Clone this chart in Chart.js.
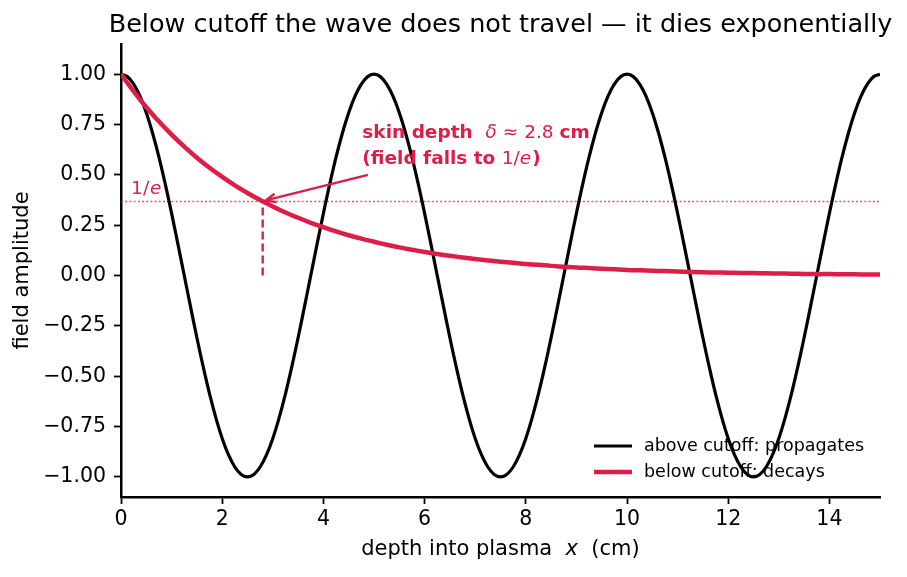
<!DOCTYPE html>
<html>
<head>
<meta charset="utf-8">
<script src="https://cdn.jsdelivr.net/npm/chart.js@4.4.1/dist/chart.umd.min.js"></script>
<style>
  html, body { margin: 0; padding: 0; background: #fff; }
  #wrap { width: 907px; height: 577px; }
</style>
</head>
<body>
<div id="wrap"><canvas id="c" width="907" height="577"></canvas></div>
<script>
// depth into plasma (cm), fine grid for the wave
const depthFine = [
  0, 0.125, 0.25, 0.375, 0.5, 0.625, 0.75, 0.875, 1, 1.125, 1.25, 1.375, 1.5, 1.625, 1.75, 1.875,
  2, 2.125, 2.25, 2.375, 2.5, 2.625, 2.75, 2.875, 3, 3.125, 3.25, 3.375, 3.5, 3.625, 3.75, 3.875,
  4, 4.125, 4.25, 4.375, 4.5, 4.625, 4.75, 4.875, 5, 5.125, 5.25, 5.375, 5.5, 5.625, 5.75, 5.875,
  6, 6.125, 6.25, 6.375, 6.5, 6.625, 6.75, 6.875, 7, 7.125, 7.25, 7.375, 7.5, 7.625, 7.75, 7.875,
  8, 8.125, 8.25, 8.375, 8.5, 8.625, 8.75, 8.875, 9, 9.125, 9.25, 9.375, 9.5, 9.625, 9.75, 9.875,
  10, 10.125, 10.25, 10.375, 10.5, 10.625, 10.75, 10.875, 11, 11.125, 11.25, 11.375, 11.5, 11.625, 11.75, 11.875,
  12, 12.125, 12.25, 12.375, 12.5, 12.625, 12.75, 12.875, 13, 13.125, 13.25, 13.375, 13.5, 13.625, 13.75, 13.875,
  14, 14.125, 14.25, 14.375, 14.5, 14.625, 14.75, 14.875, 15
];

// above cutoff: travelling wave
const propagates = [
  1.000, 0.988, 0.951, 0.891, 0.809, 0.707, 0.588, 0.454, 0.309, 0.156, 0.000, -0.156, -0.309, -0.454, -0.588, -0.707,
  -0.809, -0.891, -0.951, -0.988, -1.000, -0.988, -0.951, -0.891, -0.809, -0.707, -0.588, -0.454, -0.309, -0.156, 0.000, 0.156,
  0.309, 0.454, 0.588, 0.707, 0.809, 0.891, 0.951, 0.988, 1.000, 0.988, 0.951, 0.891, 0.809, 0.707, 0.588, 0.454,
  0.309, 0.156, 0.000, -0.156, -0.309, -0.454, -0.588, -0.707, -0.809, -0.891, -0.951, -0.988, -1.000, -0.988, -0.951, -0.891,
  -0.809, -0.707, -0.588, -0.454, -0.309, -0.156, 0.000, 0.156, 0.309, 0.454, 0.588, 0.707, 0.809, 0.891, 0.951, 0.988,
  1.000, 0.988, 0.951, 0.891, 0.809, 0.707, 0.588, 0.454, 0.309, 0.156, 0.000, -0.156, -0.309, -0.454, -0.588, -0.707,
  -0.809, -0.891, -0.951, -0.988, -1.000, -0.988, -0.951, -0.891, -0.809, -0.707, -0.588, -0.454, -0.309, -0.156, 0.000, 0.156,
  0.309, 0.454, 0.588, 0.707, 0.809, 0.891, 0.951, 0.988, 1.000
];

// depth grid for the decaying field
const depth = [
  0, 0.25, 0.5, 0.75, 1, 1.25, 1.5, 1.75, 2, 2.25, 2.5, 2.75, 3, 3.25, 3.5, 3.75,
  4, 4.25, 4.5, 4.75, 5, 5.25, 5.5, 5.75, 6, 6.25, 6.5, 6.75, 7, 7.25, 7.5, 7.75,
  8, 8.25, 8.5, 8.75, 9, 9.25, 9.5, 9.75, 10, 10.25, 10.5, 10.75, 11, 11.25, 11.5, 11.75,
  12, 12.25, 12.5, 12.75, 13, 13.25, 13.5, 13.75, 14, 14.25, 14.5, 14.75, 15
];

// below cutoff: evanescent field
const decays = [
  1.000, 0.915, 0.836, 0.765, 0.700, 0.640, 0.585, 0.535, 0.490, 0.448, 0.410, 0.375, 0.343, 0.313, 0.287, 0.262,
  0.240, 0.219, 0.200, 0.183, 0.168, 0.153, 0.140, 0.128, 0.117, 0.107, 0.098, 0.090, 0.082, 0.075, 0.069, 0.063,
  0.057, 0.053, 0.048, 0.044, 0.040, 0.037, 0.034, 0.031, 0.028, 0.026, 0.024, 0.022, 0.020, 0.018, 0.016, 0.015,
  0.014, 0.013, 0.012, 0.011, 0.010, 0.009, 0.008, 0.007, 0.007, 0.006, 0.006, 0.005, 0.005
];

const skinDepth = 2.8;
const oneOverE = 0.368;

const xTicks = [0, 2, 4, 6, 8, 10, 12, 14];
const yTicks = [-1, -0.75, -0.5, -0.25, 0, 0.25, 0.5, 0.75, 1];

const seriesLabels = ['above cutoff: propagates', 'below cutoff: decays'];

const RED = '#dc1e48';
const FONT = "'DejaVu Sans', sans-serif";

function pts(xs, ys) {
    return xs.map((x, i) => ({x: x, y: ys[i]}));
}

function fmtY(v) {
    let s = v.toFixed(2);
    return s.replace('-', '\u2212');
}

// texts drawn over the chart: title, axis labels, annotation, legend
const decor = {
    id: 'decor',
    afterDraw(chart) {
        const ctx = chart.ctx;
        const ca = chart.chartArea;
        const xs = chart.scales.x, ys = chart.scales.y;
        ctx.save();
        ctx.fillStyle = '#000';
        ctx.textBaseline = 'middle';

        // title
        ctx.font = '25.5px ' + FONT;
        ctx.textAlign = 'center';
        ctx.fillText('Below cutoff the wave does not travel \u2014 it dies exponentially', (ca.left + ca.right) / 2, 25);

        // x label with italic x
        let lf = '21px ' + FONT, lfi = 'italic 21px ' + FONT;
        let p1 = 'depth into plasma  ', p3 = '  (cm)';
        ctx.font = lf;
        let w1 = ctx.measureText(p1).width, w3 = ctx.measureText(p3).width;
        ctx.font = lfi;
        let w2 = ctx.measureText('x').width;
        let sx = (ca.left + ca.right) / 2 - (w1 + w2 + w3) / 2;
        ctx.textAlign = 'left';
        ctx.font = lf;
        ctx.fillText(p1, sx, 550);
        ctx.font = lfi;
        ctx.fillText('x', sx + w1, 550);
        ctx.font = lf;
        ctx.fillText(p3, sx + w1 + w2, 550);

        // y label
        ctx.save();
        ctx.translate(23, (ca.top + ca.bottom) / 2);
        ctx.rotate(-Math.PI / 2);
        ctx.textAlign = 'center';
        ctx.fillText('field amplitude', 0, 0);
        ctx.restore();

        // 1/e label
        ctx.fillStyle = RED;
        ctx.textAlign = 'left';
        ctx.font = '18.5px ' + FONT;
        let lx = xs.getPixelForValue(0.2), ly = ys.getPixelForValue(oneOverE) - 12;
        ctx.fillText('1/', lx, ly);
        let sw = ctx.measureText('1/').width;
        ctx.font = 'italic 18.5px ' + FONT;
        ctx.fillText('e', lx + sw + 1, ly);

        // annotation text
        let af = 'bold 18.5px ' + FONT, an = '18.5px ' + FONT, ai = 'italic 18.5px ' + FONT;
        let tx = xs.getPixelForValue(4.77);
        let ty = ys.getPixelForValue(0.5);
        ctx.font = af;
        let a = 'skin depth  ';
        ctx.fillText(a, tx, ty - 42);
        let aw = ctx.measureText(a).width;
        ctx.font = ai;
        ctx.fillText('\u03b4', aw + tx, ty - 42);
        let dw = ctx.measureText('\u03b4').width;
        ctx.font = an;
        ctx.fillText(' \u2248 2.8 ', tx + aw + dw, ty - 42);
        let bw = ctx.measureText(' \u2248 2.8 ').width;
        ctx.font = af;
        ctx.fillText('cm', tx + aw + dw + bw, ty - 42);

        let b = '(field falls to ';
        ctx.fillText(b, tx, ty - 16);
        let ew = ctx.measureText(b).width;
        ctx.font = an;
        ctx.fillText('1/', tx + ew, ty - 16);
        let ow = ctx.measureText('1/').width;
        ctx.font = ai;
        ctx.fillText('e', tx + ew + ow, ty - 16);
        let iw = ctx.measureText('e').width;
        ctx.font = af;
        ctx.fillText(')', tx + ew + ow + iw + 1, ty - 16);

        // arrow
        let x0 = xs.getPixelForValue(4.88), y0 = ys.getPixelForValue(0.5);
        let x1 = xs.getPixelForValue(skinDepth) + 3, y1 = ys.getPixelForValue(oneOverE) - 1;
        ctx.strokeStyle = RED;
        ctx.lineWidth = 2.4;
        ctx.beginPath();
        ctx.moveTo(x0, y0);
        ctx.lineTo(x1, y1);
        let ang = Math.atan2(y0 - y1, x0 - x1);
        ctx.moveTo(x1 + 11 * Math.cos(ang + 0.4), y1 + 11 * Math.sin(ang + 0.4));
        ctx.lineTo(x1, y1);
        ctx.lineTo(x1 + 11 * Math.cos(ang - 0.4), y1 + 11 * Math.sin(ang - 0.4));
        ctx.stroke();

        // legend
        ctx.font = '17.5px ' + FONT;
        const legendColors = ['#000', RED];
        const legendWidths = [3.2, 4.5];
        for (let i = 0; i < seriesLabels.length; i++) {
            let ry = ca.bottom - 51 + i * 26;
            ctx.strokeStyle = legendColors[i];
            ctx.lineWidth = legendWidths[i];
            ctx.beginPath();
            ctx.moveTo(ca.right - 286, ry);
            ctx.lineTo(ca.right - 248, ry);
            ctx.stroke();
            ctx.fillStyle = '#000';
            ctx.fillText(seriesLabels[i], ca.right - 236, ry);
        }
        ctx.restore();
    }
};

const data = {
    datasets: [
        {
            label: seriesLabels[0],
            data: pts(depthFine, propagates),
            borderColor: '#000',
            borderWidth: 3.2,
            tension: 0.4,
            pointRadius: 0,
            order: 2
        },
        {
            label: seriesLabels[1],
            data: pts(depth, decays),
            borderColor: RED,
            borderWidth: 4.5,
            tension: 0.4,
            pointRadius: 0,
            order: 1
        },
        {
            label: '1/e level',
            data: [{x: 0, y: oneOverE}, {x: 15, y: oneOverE}],
            borderColor: 'rgba(220,30,72,0.75)',
            borderWidth: 1.6,
            borderDash: [2, 2.2],
            pointRadius: 0,
            order: 3
        },
        {
            label: 'skin depth',
            data: [{x: skinDepth, y: 0}, {x: skinDepth, y: oneOverE}],
            borderColor: RED,
            borderWidth: 2.4,
            borderDash: [8, 4],
            pointRadius: 0,
            order: 3
        }
    ]
};

const config = {
    type: 'scatter',
    data: data,
    options: {
        responsive: false,
        animation: false,
        showLine: true,
        layout: { padding: { left: 0, right: 27, top: 44, bottom: 0 } },
        plugins: {
            legend: { display: false },
            tooltip: { enabled: false },
            title: { display: false }
        },
        scales: {
            x: {
                type: 'linear',
                min: 0, max: 15,
                afterFit: s => { s.height = 80; },
                afterBuildTicks: s => { s.ticks = xTicks.map(v => ({value: v})); },
                grid: { display: true, drawOnChartArea: false, drawTicks: true, tickLength: 7, tickWidth: 1.8, tickColor: '#000' },
                border: { display: true, color: '#000', width: 2.5 },
                ticks: { color: '#000', font: { family: 'DejaVu Sans', size: 20.5 }, padding: 3, maxRotation: 0 }
            },
            y: {
                type: 'linear',
                min: -1.1, max: 1.15,
                afterFit: s => { s.width = 121; },
                afterBuildTicks: s => { s.ticks = yTicks.map(v => ({value: v})); },
                grid: { display: true, drawOnChartArea: false, drawTicks: true, tickLength: 7, tickWidth: 1.8, tickColor: '#000' },
                border: { display: true, color: '#000', width: 2.5 },
                ticks: { color: '#000', font: { family: 'DejaVu Sans', size: 20.5 }, padding: 8, callback: v => fmtY(v) }
            }
        }
    },
    plugins: [decor]
};

let ctx = document.getElementById('c').getContext('2d');
new Chart(ctx, config);
</script>
</body>
</html>
